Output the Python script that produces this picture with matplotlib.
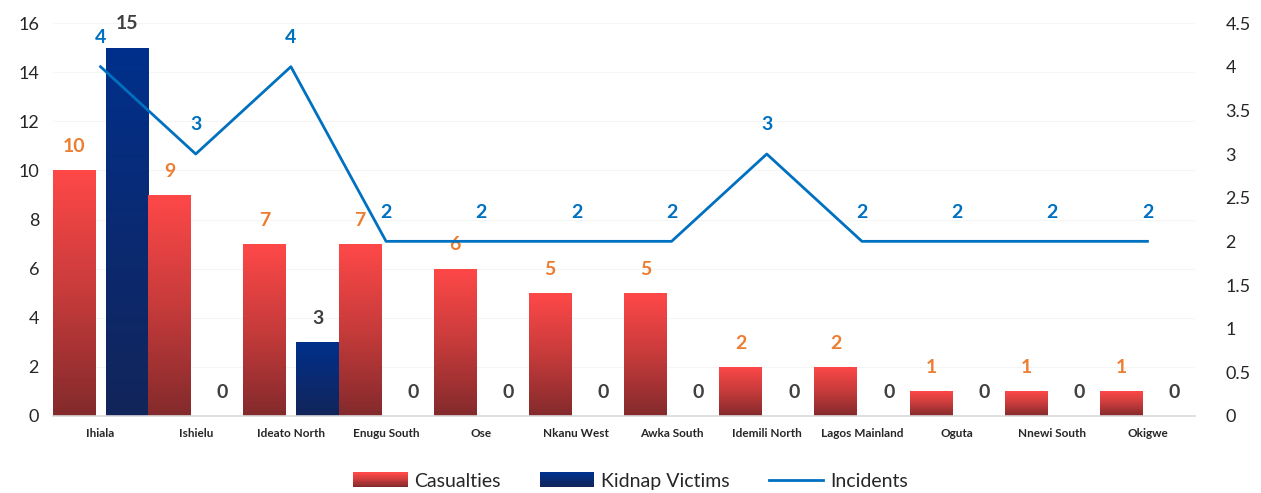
import matplotlib
matplotlib.use("Agg")
import matplotlib.pyplot as plt
import numpy as np
from matplotlib.patches import Rectangle
from matplotlib.legend_handler import HandlerBase
from matplotlib.colors import LinearSegmentedColormap
from matplotlib.lines import Line2D

plt.rcParams['font.family'] = ['Lato', 'DejaVu Sans']

categories = ["Ihiala", "Ishielu", "Ideato North", "Enugu South", "Ose", "Nkanu West",
              "Awka South", "Idemili North", "Lagos Mainland", "Oguta", "Nnewi South", "Okigwe"]
casualties = [10, 9, 7, 7, 6, 5, 5, 2, 2, 1, 1, 1]
kidnap = [15, 0, 3, 0, 0, 0, 0, 0, 0, 0, 0, 0]
incidents = [4, 3, 4, 2, 2, 2, 2, 3, 2, 2, 2, 2]
left_ticks = [0, 2, 4, 6, 8, 10, 12, 14, 16]
right_ticks = [0, 0.5, 1, 1.5, 2, 2.5, 3, 3.5, 4, 4.5]
right_labels = ["0", "0.5", "1", "1.5", "2", "2.5", "3", "3.5", "4", "4.5"]

red_cmap = LinearSegmentedColormap.from_list("r", ["#832A2C", "#C73B3B", "#FF4848"])
blue_cmap = LinearSegmentedColormap.from_list("b", ["#12255A", "#0A2A72", "#00308C"])

fig = plt.figure(figsize=(12.61, 4.93), dpi=100)
ax = fig.add_axes([0.042, 0.1562, 0.9057, 0.7971])
ax2 = ax.twinx()

x = np.arange(len(categories))
w = 0.45
off_r, off_b = -0.274, 0.283

grad = np.linspace(0, 1, 256).reshape(-1, 1)

def grad_bar(axis, xc, h, cmap):
    if h <= 0:
        return
    r = Rectangle((xc - w / 2, 0), w, h, facecolor='none', edgecolor='none')
    axis.add_patch(r)
    im = axis.imshow(grad, cmap=cmap, origin='lower', aspect='auto',
                     extent=(xc - w / 2, xc + w / 2, 0, h), zorder=2, interpolation='bilinear')
    im.set_clip_path(r)

for i in x:
    grad_bar(ax, i + off_r, casualties[i], red_cmap)
    grad_bar(ax, i + off_b, kidnap[i], blue_cmap)
    ax.text(i + off_r, casualties[i] + 0.62, str(casualties[i]), ha='center', va='bottom',
            color='#ED7D31', fontsize=14, fontweight='bold')
    ax.text(i + off_b, kidnap[i] + 0.62, str(kidnap[i]), ha='center', va='bottom',
            color='#404040', fontsize=14, fontweight='bold')

ax.set_xlim(-0.5, len(categories) - 0.5)
ax.set_ylim(0, 16)
ax.set_yticks(left_ticks)
ax.set_yticklabels([str(t) for t in left_ticks], fontsize=13, color='#262626')
ax.set_xticks(x)
ax.set_xticklabels(categories, fontsize=8.5, fontweight='bold', color='#262626')
ax.tick_params(axis='both', length=0)
ax.tick_params(axis='x', pad=9)
ax.tick_params(axis='y', pad=10)
for t in left_ticks[1:]:
    ax.axhline(t, color='#F5F5F5', lw=0.8, zorder=0)
for s in ['top', 'right', 'left']:
    ax.spines[s].set_visible(False)
ax.spines['bottom'].set_color('#D9D9D9')
ax.spines['bottom'].set_linewidth(1.2)

ax2.plot(x, incidents, color='#0070C0', lw=2, zorder=5)
for i in x:
    ax2.text(i, incidents[i] + 0.235, str(incidents[i]), ha='center', va='bottom',
             color='#0070C0', fontsize=14, fontweight='bold')
ax2.set_ylim(0, 4.5)
ax2.set_yticks(right_ticks)
ax2.set_yticklabels(right_labels, fontsize=13, color='#262626')
ax2.tick_params(axis='y', length=0, pad=22)
for s in ax2.spines.values():
    s.set_visible(False)

class GradHandler(HandlerBase):
    def __init__(self, cmap):
        super().__init__()
        self.cmap = cmap
    def create_artists(self, legend, orig_handle, xdescent, ydescent, width, height, fontsize, trans):
        arts = []
        n = 12
        for k in range(n):
            r = Rectangle((-xdescent, -ydescent + height * k / n), width, height / n + 0.3,
                          facecolor=self.cmap(k / (n - 1)), edgecolor='none', transform=trans)
            arts.append(r)
        return arts

h_red = Rectangle((0, 0), 1, 1)
h_blue = Rectangle((0, 1), 1, 1)
h_line = Line2D([], [], color='#0070C0', lw=2)
leg = fig.legend([h_red, h_blue, h_line], ["Casualties", "Kidnap Victims", "Incidents"],
                 handler_map={h_red: GradHandler(red_cmap), h_blue: GradHandler(blue_cmap)},
                 loc='center', bbox_to_anchor=(0.5, 0.024), ncol=3, frameon=False,
                 fontsize=14, handlelength=2.8, handleheight=0.8, columnspacing=2.0,
                 handletextpad=0.35, labelcolor='#262626')

fig.savefig("out.png", dpi=100)
